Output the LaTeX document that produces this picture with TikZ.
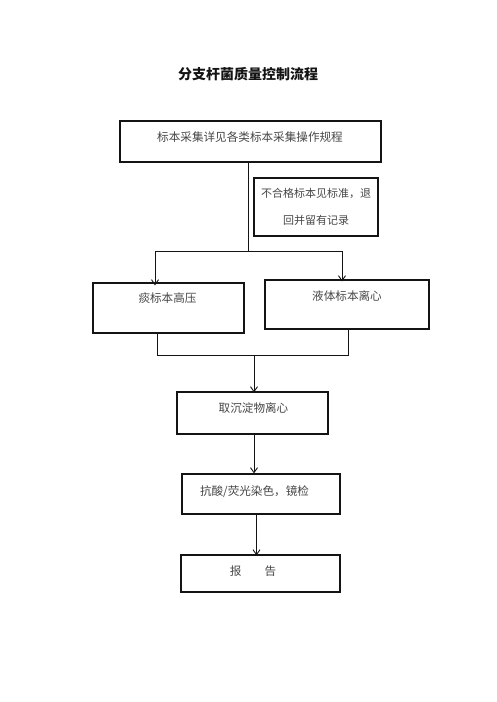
\documentclass[tikz,border=0pt]{standalone}
\usepackage{fontspec}
\usepackage{xcolor}
\usetikzlibrary{arrows.meta,positioning}
\newfontfamily\cjk{Noto Sans CJK SC}
\definecolor{ink}{RGB}{20,20,20}
\definecolor{txtgray}{RGB}{70,70,70}

\tikzset{
  box/.style={draw=ink, line width=1.1pt, inner sep=0pt},
  txt/.style={txtgray, font=\cjk\fontsize{11.6}{13}\selectfont},
  link/.style={draw=ink, line width=0.9pt},
  arr/.style={link, -{Straight Barb[length=5pt,width=7pt]}}
}

\begin{document}
\begin{tikzpicture}[x=1pt,y=-1pt]
  \useasboundingbox (0,0) rectangle (496,702);
  % title
  \node (title) [ink, font=\cjk\bfseries\fontsize{14}{16}\selectfont] at (248,74) {分支杆菌质量控制流程};
  % boxes
  \node (collect) [box, minimum width=261pt, minimum height=41pt] at (250.5,141.5) {};
  \node (reject) [box, minimum width=124pt, minimum height=58pt] at (316,207) {};
  \node (sputum) [box, minimum width=151pt, minimum height=50pt] at (168.5,308) {};
  \node (liquid) [box, minimum width=164pt, minimum height=49pt] at (347,304.5) {};
  \node (sediment) [box, minimum width=151pt, minimum height=42pt] at (252.5,413) {};
  \node (stain) [box, minimum width=158pt, minimum height=40pt] at (261,494) {};
  \node (report) [box, minimum width=159pt, minimum height=37pt] at (260.5,573.5) {};
  % texts
  \node (collecttxt) [txt] at (250,137) {标本采集详见各类标本采集操作规程};
  \node (rejecttxt1) [txt, font=\cjk\fontsize{11}{13}\selectfont] at (316,193) {不合格标本见标准，退};
  \node (rejecttxt2) [txt, font=\cjk\fontsize{11}{13}\selectfont] at (316,220) {回并留有记录};
  \node (sputumtxt) [txt] at (167.5,298) {痰标本高压};
  \node (liquidtxt) [txt] at (347,296) {液体标本离心};
  \node (sedimenttxt) [txt] at (253.5,408) {取沉淀物离心};
  \node (staintxt) [txt] at (254.5,492) {抗酸/荧光染色，镜检};
  \node (reporttxt) [txt] at (253,571) {报\hspace{2em}告};
  % split to the two branches
  \coordinate (split) at (248,251);
  \coordinate (lsplit) at (155,251);
  \coordinate (rsplit) at (342,251);
  \draw[link] (collect.south -| split) -- (split);
  \draw[link] (lsplit) -- (rsplit);
  \draw[arr] (lsplit) -- ([yshift=-3pt]lsplit |- sputum.north);
  \draw[arr] (rsplit) -- ([yshift=-2pt]rsplit |- liquid.north);
  % merge
  \coordinate (ljoin) at (157,355);
  \coordinate (rjoin) at (348,355);
  \coordinate (merge) at (254,355);
  \draw[link] (sputum.south -| ljoin) -- (ljoin) -- (rjoin) -- (liquid.south -| rjoin);
  \draw[arr] (merge) -- ([yshift=-1pt]merge |- sediment.north);
  \draw[arr] (sediment.south -| merge) -- (stain.north -| merge);
  \coordinate (down) at (256.5,514);
  \draw[arr] (stain.south -| down) -- ([yshift=-1pt]report.north -| down);
\end{tikzpicture}
\end{document}
